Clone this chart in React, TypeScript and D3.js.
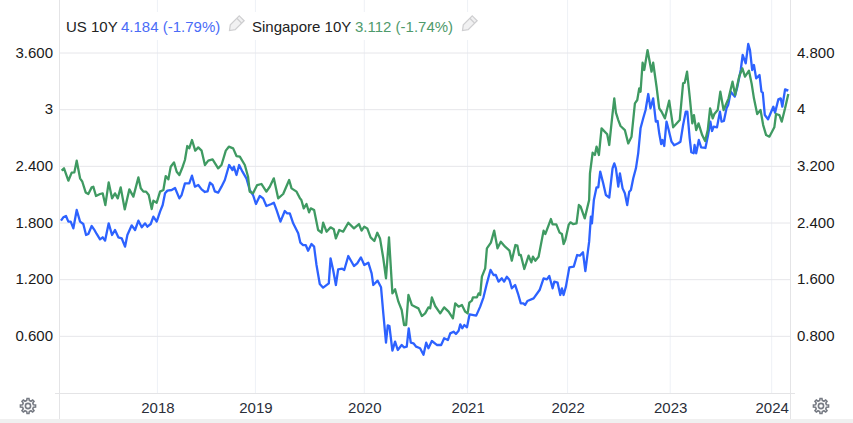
import React from "react";
import * as d3 from "d3";

const yearTicks = [2018, 2019, 2020, 2021, 2022, 2023, 2024];
const yearAnchors = [2017, 2018, 2019, 2020, 2021, 2022, 2023, 2024, 2025];
const yearPixels = [59, 157.4, 255.4, 364.3, 467.6, 567.6, 670.2, 771.7, 873];
const leftTicks = [0.6, 1.2, 1.8, 2.4, 3, 3.6];
const leftLabels = ["0.600", "1.200", "1.800", "2.400", "3", "3.600"];
const rightTicks = [0.8, 1.6, 2.4, 3.2, 4, 4.8];
const rightLabels = ["0.800", "1.600", "2.400", "3.200", "4", "4.800"];

const usDates = [2017.02,2017.044,2017.071,2017.095,2017.119,2017.146,2017.18,2017.214,2017.247,2017.275,2017.298,2017.332,2017.356,2017.383,2017.417,2017.444,2017.468,2017.505,2017.539,2017.569,2017.603,2017.637,2017.671,2017.695,2017.739,2017.773,2017.807,2017.841,2017.875,2017.898,2017.932,2017.959,2017.993,
2018.027,2018.054,2018.078,2018.102,2018.146,2018.18,2018.224,2018.247,2018.281,2018.325,2018.353,2018.383,2018.417,2018.451,2018.485,2018.512,2018.536,2018.563,2018.586,2018.62,2018.654,2018.688,2018.732,2018.766,2018.78,2018.807,2018.834,2018.868,2018.908,2018.942,2018.976,
2019.005,2019.04,2019.071,2019.101,2019.147,2019.169,2019.194,2019.23,2019.27,2019.292,2019.316,2019.347,2019.393,2019.413,2019.438,2019.462,2019.484,2019.515,2019.539,2019.561,2019.591,2019.622,2019.674,2019.69,2019.714,2019.739,2019.76,2019.797,2019.816,2019.853,2019.905,2019.935,2019.969,
2020,2020.039,2020.071,2020.087,2020.129,2020.162,2020.184,2020.21,2020.227,2020.243,2020.272,2020.298,2020.324,2020.362,2020.385,2020.411,2020.43,2020.45,2020.476,2020.502,2020.54,2020.573,2020.599,2020.621,2020.654,2020.702,2020.744,2020.773,2020.809,2020.832,2020.864,2020.887,2020.913,2020.929,2020.948,2020.968,2020.994,
2021.02,2021.086,2021.126,2021.159,2021.193,2021.229,2021.259,2021.282,2021.309,2021.342,2021.365,2021.392,2021.419,2021.442,2021.475,2021.508,2021.532,2021.558,2021.575,2021.598,2021.66,2021.72,2021.76,2021.793,2021.817,2021.85,2021.867,2021.9,2021.927,2021.943,2021.96,2021.983,
2022.017,2022.06,2022.093,2022.12,2022.15,2022.173,2022.21,2022.227,2022.237,2022.256,2022.282,2022.299,2022.318,2022.347,2022.373,2022.406,2022.438,2022.455,2022.471,2022.494,2022.51,2022.536,2022.558,2022.581,2022.601,2022.617,2022.64,2022.666,2022.688,2022.711,2022.737,2022.76,2022.786,2022.808,2022.834,2022.86,2022.877,2022.893,2022.912,2022.925,2022.942,2022.964,2022.981,
2023.013,2023.039,2023.078,2023.101,2023.127,2023.153,2023.169,2023.192,2023.208,2023.231,2023.24,2023.256,2023.282,2023.305,2023.347,2023.373,2023.396,2023.412,2023.429,2023.461,2023.49,2023.506,2023.529,2023.555,2023.571,2023.597,2023.636,2023.662,2023.695,2023.714,2023.744,2023.769,2023.786,2023.808,2023.825,2023.847,2023.88,2023.899,2023.912,2023.932,2023.964,
2024.016,2024.033,2024.066,2024.089,2024.105,2024.132,2024.164];
const usYields = [2.433,2.48,2.499,2.419,2.419,2.325,2.584,2.419,2.386,2.231,2.245,2.358,2.311,2.245,2.169,2.198,2.151,2.395,2.231,2.301,2.198,2.184,2.066,2.231,2.367,2.301,2.433,2.339,2.395,2.348,2.386,2.489,2.419,
2.56,2.654,2.819,2.857,2.866,2.894,2.748,2.795,2.96,2.96,3.068,2.913,2.937,2.875,2.838,2.847,2.969,2.937,2.847,2.828,2.913,3.007,3.219,3.148,3.195,3.078,3.219,3.125,3.031,2.866,2.795,
2.668,2.781,2.748,2.64,2.668,2.687,2.584,2.419,2.569,2.537,2.537,2.395,2.254,2.122,2.089,2.089,2.009,2.104,2.066,1.807,1.539,1.487,1.548,1.901,1.737,1.525,1.746,1.755,1.737,1.934,1.793,1.831,1.915,
1.807,1.84,1.689,1.525,1.586,1.492,1.125,0.711,0.955,0.946,0.598,0.725,0.607,0.678,0.645,0.654,0.913,0.711,0.701,0.654,0.631,0.541,0.711,0.631,0.734,0.678,0.678,0.772,0.748,0.842,0.866,0.833,0.88,0.969,0.913,0.96,0.927,
1.111,1.092,1.219,1.351,1.548,1.737,1.666,1.666,1.572,1.619,1.572,1.642,1.595,1.478,1.525,1.384,1.266,1.266,1.242,1.299,1.336,1.454,1.619,1.605,1.652,1.478,1.572,1.558,1.384,1.478,1.384,1.501,
1.774,1.784,1.948,1.939,1.986,1.722,2.137,2.489,2.395,2.725,2.904,2.904,3.125,2.96,2.795,2.758,3.172,3.242,3.172,2.913,3.101,2.889,2.819,2.654,2.842,2.866,3.031,3.172,3.384,3.737,3.878,3.995,4.221,4.019,4.16,3.831,3.84,3.666,3.515,3.572,3.487,3.831,3.737,
3.548,3.497,3.525,3.548,3.784,3.972,3.972,3.595,3.398,3.384,3.501,3.384,3.572,3.468,3.459,3.642,3.831,3.699,3.76,3.751,3.972,3.831,3.84,4.019,4.066,4.254,4.184,4.325,4.56,4.772,4.654,4.927,4.842,4.56,4.631,4.442,4.489,4.254,4.24,3.925,3.864,
4.042,3.958,4.146,4.16,4.042,4.287,4.268];

const sgDates = [2017.027,2017.051,2017.095,2017.129,2017.156,2017.18,2017.214,2017.237,2017.271,2017.298,2017.332,2017.349,2017.376,2017.417,2017.444,2017.471,2017.505,2017.539,2017.569,2017.597,2017.627,2017.668,2017.715,2017.756,2017.807,2017.831,2017.858,2017.885,2017.912,2017.942,2017.959,2017.993,
2018.027,2018.061,2018.085,2018.112,2018.136,2018.169,2018.197,2018.224,2018.258,2018.281,2018.305,2018.325,2018.353,2018.386,2018.417,2018.451,2018.485,2018.519,2018.563,2018.62,2018.654,2018.698,2018.729,2018.773,2018.807,2018.841,2018.892,2018.925,2018.942,2018.976,
2019.016,2019.055,2019.101,2019.132,2019.169,2019.209,2019.255,2019.31,2019.332,2019.378,2019.409,2019.422,2019.444,2019.469,2019.493,2019.508,2019.539,2019.576,2019.607,2019.622,2019.653,2019.69,2019.72,2019.739,2019.77,2019.806,2019.853,2019.905,2019.951,2019.975,
2020,2020.029,2020.061,2020.097,2020.126,2020.152,2020.184,2020.21,2020.239,2020.272,2020.298,2020.33,2020.362,2020.385,2020.405,2020.427,2020.46,2020.492,2020.524,2020.557,2020.589,2020.621,2020.638,2020.654,2020.686,2020.735,2020.773,2020.816,2020.858,2020.88,2020.913,2020.945,2020.977,
2021,2021.017,2021.043,2021.053,2021.093,2021.11,2021.126,2021.143,2021.176,2021.193,2021.233,2021.266,2021.299,2021.332,2021.375,2021.419,2021.442,2021.478,2021.498,2021.515,2021.532,2021.567,2021.61,2021.637,2021.653,2021.677,2021.71,2021.76,2021.777,2021.833,2021.85,2021.887,2021.92,2021.943,2021.96,2021.977,
2022.01,2022.027,2022.053,2022.087,2022.11,2022.127,2022.167,2022.21,2022.218,2022.244,2022.266,2022.282,2022.305,2022.331,2022.386,2022.406,2022.435,2022.455,2022.471,2022.494,2022.516,2022.558,2022.591,2022.623,2022.656,2022.679,2022.698,2022.711,2022.731,2022.747,2022.779,2022.818,2022.834,2022.867,2022.893,2022.916,2022.948,2022.99,
2023.029,2023.094,2023.127,2023.143,2023.166,2023.192,2023.218,2023.234,2023.256,2023.279,2023.315,2023.344,2023.37,2023.393,2023.419,2023.435,2023.468,2023.494,2023.526,2023.575,2023.614,2023.64,2023.679,2023.711,2023.737,2023.776,2023.802,2023.825,2023.857,2023.89,2023.916,2023.945,2023.977,
2024.026,2024.043,2024.076,2024.099,2024.132,2024.164];
const sgYields = [2.354,2.379,2.248,2.333,2.336,2.46,2.273,2.237,2.124,2.107,2.177,2.184,2.086,2.107,2.114,1.99,2.23,2.061,2.114,2.061,2.177,1.944,2.156,2.079,2.283,2.167,2.132,2.132,2.096,1.948,2.036,2.015,
2.132,2.149,2.297,2.262,2.396,2.442,2.343,2.308,2.396,2.467,2.615,2.59,2.679,2.566,2.601,2.566,2.414,2.46,2.474,2.379,2.414,2.566,2.608,2.59,2.509,2.502,2.414,2.29,2.132,2.114,
2.202,2.213,2.132,2.184,2.273,2.061,2.107,2.255,2.167,2.132,2.061,2.043,1.955,2.001,1.913,1.955,1.937,1.726,1.697,1.803,1.708,1.754,1.733,1.637,1.726,1.708,1.803,1.743,1.789,1.719,
1.761,1.743,1.648,1.609,1.697,1.637,1.426,1.214,1.648,1.055,1.098,0.967,0.879,0.72,0.72,1.038,0.932,0.914,0.896,0.815,0.843,0.907,0.896,1.013,0.921,0.843,0.907,0.861,0.79,0.949,0.914,0.932,0.861,
0.843,0.956,0.978,1.013,1.013,1.055,1.038,1.232,1.32,1.532,1.592,1.719,1.532,1.602,1.549,1.507,1.401,1.567,1.56,1.461,1.461,1.313,1.454,1.383,1.443,1.401,1.443,1.719,1.683,1.842,1.786,1.786,1.698,1.683,1.578,1.62,
1.779,1.807,1.789,1.796,1.991,1.973,1.849,2.043,2.326,2.544,2.52,2.608,2.52,2.802,2.739,2.626,2.926,3.12,2.968,2.89,2.827,2.784,2.643,2.714,3.067,3.102,3.226,3.19,3.497,3.42,3.631,3.402,3.497,3.243,3.014,2.978,2.908,3.095,
2.813,2.89,3.278,3.285,3.402,3.137,2.855,2.943,2.784,2.855,2.731,2.668,2.784,3.014,2.908,2.954,2.996,3.19,2.996,3.12,3.296,3.155,3.349,3.437,3.349,3.413,3.278,3.12,2.954,2.996,2.837,2.731,2.714,
2.813,2.954,2.943,2.873,3.014,3.166];

const W = 853, H = 423;
const xScale = d3.scaleLinear().domain(yearAnchors).range(yearPixels);
const yLeft = d3.scaleLinear().domain([0, 3.6]).range([393, 53]);
const yRight = d3.scaleLinear().domain([0, 4.8]).range([393, 53]);
const usLine = d3.line<number>().x((_, i) => xScale(usDates[i])).y((d) => yRight(d));
const sgLine = d3.line<number>().x((_, i) => xScale(sgDates[i])).y((d) => yLeft(d));
const font = "'Liberation Sans', Arial, sans-serif";

function gearPath(): string {
  const pts: [number, number][] = [];
  const teeth = 8;
  for (let i = 0; i < teeth; i++) {
    const a = (i / teeth) * 2 * Math.PI;
    const s = (Math.PI * 2) / teeth;
    [[-0.3, 5.6], [-0.16, 7.6], [0.16, 7.6], [0.3, 5.6]].forEach(([o, r]) => {
      pts.push([r * Math.cos(a + o * s), r * Math.sin(a + o * s)]);
    });
  }
  return (d3.line()(pts) as string) + "Z";
}

function Gear({ x, y }: { x: number; y: number }) {
  return (
    <g transform={`translate(${x},${y})`} fill="none" stroke="#777b84" strokeWidth={1.6}>
      <path d={gearPath()} />
      <circle r={2.6} />
    </g>
  );
}

function Pencil({ x, y }: { x: number; y: number }) {
  return (
    <g transform={`translate(${x},${y}) rotate(45) scale(1.15)`} fill="#f1f1f2" stroke="#cfcfd1" strokeWidth={1.1}>
      <path d="M-3,-7 L3,-7 L3,4 L0,8 L-3,4 Z" />
      <path d="M-3,-4 L3,-4" />
    </g>
  );
}

export default function App() {
  return (
    <svg width={W} height={H} style={{ position: "absolute", left: 0, top: 0, background: "#fff" }} fontFamily={font}>
      <rect x={0} y={419} width={W} height={4} fill="#f0f0f0" />
      {yearTicks.map((t) => (
        <line key={t} x1={xScale(t)} x2={xScale(t)} y1={0} y2={393} stroke="#eef1f6" />
      ))}
      {leftTicks.map((t) => (
        <line key={t} x1={59} x2={790} y1={yLeft(t)} y2={yLeft(t)} stroke="#e6e6ea" />
      ))}
      <line x1={59.5} x2={59.5} y1={0} y2={419} stroke="#e4e4e6" />
      <line x1={790.5} x2={790.5} y1={0} y2={419} stroke="#e4e4e6" />
      <line x1={55} x2={795} y1={393.5} y2={393.5} stroke="#e4e4e6" />

      <rect x={62} y={12} width={420} height={28} fill="#fff" />

      <path d={usLine(usYields) ?? ""} fill="none" stroke="#2d62ff" strokeWidth={2.3} strokeLinejoin="round" />
      <path d={sgLine(sgYields) ?? ""} fill="none" stroke="#3f9a62" strokeWidth={2.3} strokeLinejoin="round" />

      {leftTicks.map((t, i) => (
        <text key={t} x={53} y={yLeft(t) + 4.5} textAnchor="end" fontSize={15} fill="#1a1a1a">{leftLabels[i]}</text>
      ))}
      {rightTicks.map((t, i) => (
        <text key={t} x={797} y={yRight(t) + 4.5} fontSize={15} fill="#1a1a1a">{rightLabels[i]}</text>
      ))}
      {yearTicks.map((t) => (
        <text key={t} x={xScale(t) + 0.5} y={413} textAnchor="middle" fontSize={15} fill="#2a2e39">{t}</text>
      ))}

      <text x={66} y={32} fontSize={15} fill="#222">US 10Y</text>
      <text x={121} y={32} fontSize={15} fill="#4a6cf7">4.184 (-1.79%)</text>
      <Pencil x={236} y={24} />
      <text x={252} y={32} fontSize={15} fill="#222">Singapore 10Y</text>
      <text x={355} y={32} fontSize={15} fill="#4f9a6c">3.112 (-1.74%)</text>
      <Pencil x={469} y={24} />

      <Gear x={28} y={406} />
      <Gear x={821} y={406} />
    </svg>
  );
}
